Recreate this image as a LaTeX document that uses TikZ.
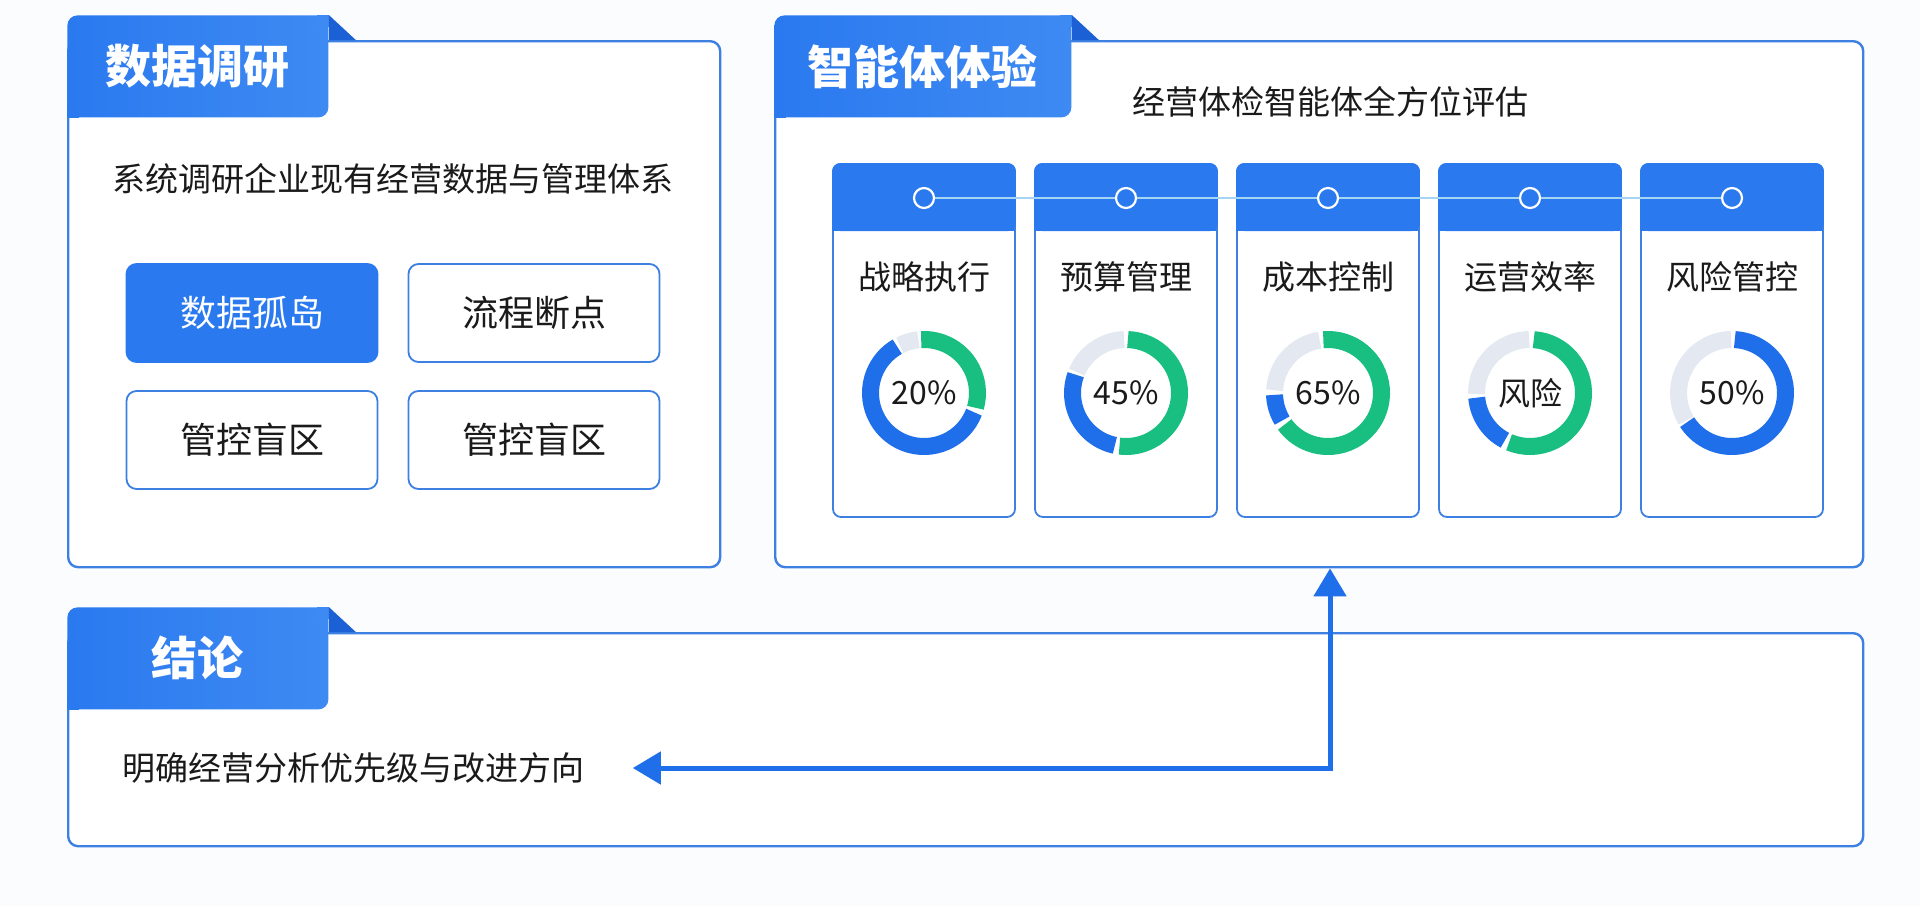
\documentclass[tikz,border=0pt]{standalone}
\usepackage{fontspec}
\setmainfont{Noto Sans CJK SC}
\usetikzlibrary{positioning, arrows.meta}
\definecolor{pagebg}{HTML}{FBFCFE}
\definecolor{frameblue}{HTML}{3D80E2}
\definecolor{tabblue}{HTML}{2A79EF}
\definecolor{tablight}{HTML}{3E8AF3}
\definecolor{earblue}{HTML}{1B60D4}
\definecolor{ringblue}{HTML}{1F6FEB}
\definecolor{ringgreen}{HTML}{18BF80}
\definecolor{ringgray}{HTML}{E4E9F1}
\definecolor{linkcyan}{HTML}{A4D6F4}
\definecolor{inktext}{HTML}{1A1A1A}

\tikzset{
  panel/.style={draw=frameblue, line width=1.2pt, fill=white, rounded corners=5pt,
    anchor=north west, inner sep=0pt},
  tab/.style={left color=tabblue, right color=tablight, rounded corners=5pt, anchor=north west,
    text=white, font=\fontsize{23pt}{28pt}\selectfont\bfseries, minimum height=51pt},
  chip/.style={draw=frameblue, line width=0.9pt, fill=white, rounded corners=5pt,
    minimum width=125.5pt, minimum height=49pt, text=inktext, font=\fontsize{18pt}{22pt}\selectfont},
  chipon/.style={chip, fill=tabblue, draw=tabblue, text=white},
  card/.style={draw=frameblue, line width=0.9pt, fill=white, rounded corners=4pt,
    minimum width=91pt, minimum height=176.5pt},
  dot/.style={circle, draw=white, line width=1.1pt, fill=tabblue, minimum size=10pt, inner sep=0pt},
  link/.style={draw=linkcyan, line width=1pt},
  body/.style={text=inktext, font=\fontsize{16.5pt}{20pt}\selectfont, inner sep=0pt},
  ring/.style={line width=8.5pt},
  flow/.style={draw=ringblue, line width=2.5pt, <->, >={Triangle[length=14pt,width=16pt]}}
}

\begin{document}
\begin{tikzpicture}[x=0.5pt, y=-0.5pt]
  \useasboundingbox (0,0) rectangle (1920,906);
  \fill[pagebg] (0,0) rectangle (1920,906);

  % panels
  \node[panel, minimum width=326pt, minimum height=263pt] (survey) at (67,40) {};
  \node[panel, minimum width=544pt, minimum height=263pt] (agent) at (774,40) {};
  \node[panel, minimum width=897.5pt, minimum height=106.5pt] (concl) at (67,632) {};

  % tabs with folded ear
  \node[tab, minimum width=130.5pt] (surveytab) at (67,15) {数据调研};
  \node[tab, minimum width=148.5pt] (agenttab) at (774,15) {智能体体验};
  \node[tab, minimum width=130.5pt] (concltab) at (67,607) {结论};
  \foreach \t in {surveytab, agenttab, concltab} {
    \fill[tabblue] (\t.south west) rectangle ++(12,-12);
    \fill[tablight] (\t.north east) rectangle ++(-12,12);
    \fill[earblue] (\t.north east) -- ++(27,25) -- ++(-27,0) -- cycle;
  }

  % survey content
  \node[body] (surveysub) at (393,179) {系统调研企业现有经营数据与管理体系};
  \node[chipon] (silo) at (252,313) {数据孤岛};
  \node[chip] (breakpt) at (534,313) {流程断点};
  \node[chip] (blind) at (252,440) {管控盲区};
  \node[chip] (blindb) at (534,440) {管控盲区};

  % agent content
  \node[body] (agentsub) at (1330,102) {经营体检智能体全方位评估};
  \foreach \i/\cx/\title/\val/\segs in {
      1/924/战略执行/20\%/{ringgreen/93/-16, ringblue/-21/-240, ringgray/117/96},
      2/1126/预算管理/45\%/{ringgreen/88/-97, ringblue/-102/-200, ringgray/157/92},
      3/1328/成本控制/65\%/{ringgreen/95/-144, ringblue/-149/-178, ringgray/177/99},
      4/1530/运营效率/风险/{ringgreen/86/-113, ringblue/-118/-175, ringgray/181/91},
      5/1732/风险管控/50\%/{ringblue/87/-147, ringgray/211/91}} {
    \node[card] (card\i) at (\cx,340.5) {};
    \fill[tabblue, rounded corners=4pt] (card\i.north west) rectangle ([yshift=-34pt]card\i.north east);
    \fill[tabblue] ([yshift=-34pt]card\i.north west) rectangle ++(182,-12);
    \node[dot] (dot\i) at (\cx,198) {};
    \node[body] (title\i) at (\cx,277) {\title};
    \begin{scope}[shift={(\cx,393)}, yscale=-1]
      \foreach \c/\a/\b in \segs
        \draw[ring, draw=\c] (\a:53.5) arc[start angle=\a, end angle=\b, radius=53.5];
    \end{scope}
    \node[body, font=\fontsize{16pt}{19pt}\selectfont] (score\i) at (\cx,393) {\val};
  }
  \foreach \a/\b in {1/2, 2/3, 3/4, 4/5}
    \draw[link] (dot\a) -- (dot\b);

  % conclusion
  \node[body, anchor=west] (concltext) at (122,768) {明确经营分析优先级与改进方向};
  \draw[flow] ([xshift=24pt]concltext.east) -| (agentsub |- agent.south);
\end{tikzpicture}
\end{document}
